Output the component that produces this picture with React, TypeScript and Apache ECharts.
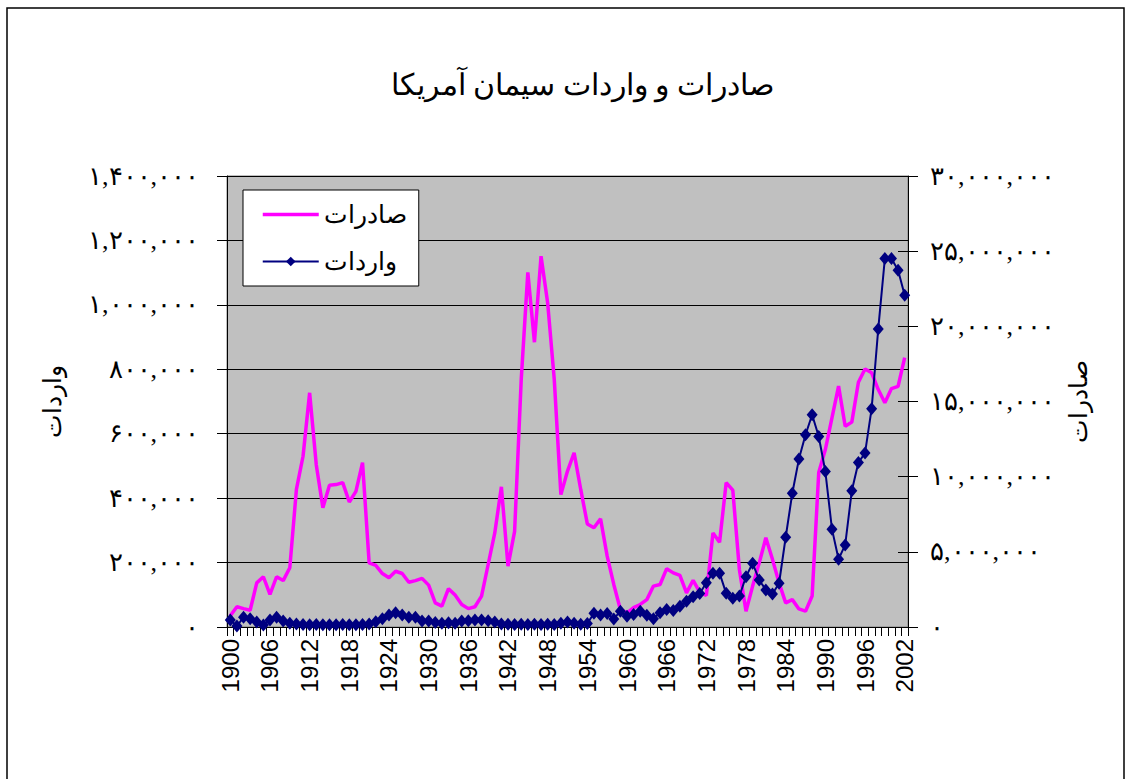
import React, { useEffect, useRef } from "react";
import * as echarts from "echarts";

const TITLE = "صادرات و واردات سیمان آمریکا";
const EXPORT_NAME = "صادرات";
const IMPORT_NAME = "واردات";

const FIRST_YEAR = 1900;
const LAST_YEAR = 2002;
const years: string[] = [];
for (let y = FIRST_YEAR; y <= LAST_YEAR; y++) years.push(String(y));

// magenta series (left axis)
const exportsData = [
  35000, 63000, 57000, 52000, 137000, 156000, 101000, 156000, 144000, 184000,
  427000, 530000, 727000, 504000, 370000, 440000, 442000, 448000, 388000, 421000,
  510000, 199000, 191000, 166000, 153000, 173000, 166000, 139000, 144000, 151000,
  130000, 75000, 65000, 119000, 99000, 70000, 57000, 63000, 96000, 194000,
  292000, 435000, 189000, 297000, 768000, 1101000, 884000, 1151000, 1006000, 768000,
  411000, 484000, 541000, 427000, 320000, 308000, 336000, 220000, 132000, 54000,
  44000, 60000, 70000, 85000, 127000, 132000, 181000, 168000, 160000, 106000,
  145000, 108000, 98000, 292000, 263000, 448000, 425000, 178000, 49000, 127000,
  199000, 277000, 210000, 137000, 75000, 85000, 56000, 49000, 96000, 480000,
  551000, 649000, 748000, 623000, 636000, 760000, 801000, 789000, 737000, 696000,
  740000, 747000, 836000,
];

// navy series (right axis)
const importsData = [
  466000, 67000, 644000, 555000, 333000, 133000, 466000, 644000, 400000, 244000,
  200000, 160000, 150000, 160000, 150000, 155000, 150000, 160000, 150000, 155000,
  160000, 200000, 350000, 550000, 800000, 955000, 800000, 650000, 650000, 400000,
  400000, 300000, 244000, 280000, 244000, 400000, 422000, 470000, 470000, 422000,
  330000, 200000, 180000, 170000, 180000, 170000, 180000, 170000, 180000, 170000,
  244000, 330000, 244000, 180000, 233000, 911000, 790000, 900000, 540000, 1053000,
  720000, 833000, 1053000, 787000, 547000, 947000, 1167000, 1100000, 1387000, 1720000,
  2013000, 2233000, 2950000, 3580000, 3580000, 2240000, 1910000, 2060000, 3350000, 4240000,
  3130000, 2460000, 2200000, 2910000, 5970000, 8900000, 11170000, 12790000, 14120000, 12670000,
  10340000, 6510000, 4510000, 5460000, 9060000, 10940000, 11570000, 14520000, 19830000, 24510000,
  24510000, 23730000, 22060000,
];

const LEFT_MIN = 0;
const LEFT_MAX = 1400000;
const LEFT_STEP = 200000;
const RIGHT_MIN = 0;
const RIGHT_MAX = 30000000;
const RIGHT_STEP = 5000000;

const FA_DIGITS = "۰۱۲۳۴۵۶۷۸۹";
const toFa = (n: number) =>
  Math.round(n)
    .toLocaleString("en-US")
    .replace(/\d/g, (d) => FA_DIGITS[Number(d)]);

const SERIF = "'Times New Roman', 'Liberation Serif', 'DejaVu Serif', serif";
const SANS = "Arial, 'Liberation Sans', sans-serif";

export default function App() {
  const ref = useRef<HTMLDivElement>(null);

  useEffect(() => {
    if (!ref.current) return;
    const chart = echarts.init(ref.current, undefined, { renderer: "svg" });
    chart.setOption({
      animation: false,
      backgroundColor: "#ffffff",
      title: {
        text: TITLE,
        left: 577,
        textAlign: "center",
        top: 64,
        textStyle: { fontFamily: SERIF, fontSize: 30, fontWeight: "normal", color: "#000" },
      },
      graphic: [
        {
          type: "rect",
          shape: { x: 7, y: 8, width: 1117, height: 800 },
          style: { fill: "none", stroke: "#000", lineWidth: 1.5 },
          silent: true,
          z: 0,
        },
      ],
      legend: {
        orient: "vertical",
        left: 243,
        top: 190,
        backgroundColor: "#ffffff",
        borderColor: "#000",
        borderWidth: 1,
        padding: [12, 12, 12, 18],
        itemGap: 22,
        itemWidth: 56,
        itemHeight: 12,
        lineStyle: { width: 3.5 },
        textStyle: { fontFamily: SERIF, fontSize: 25, color: "#000" },
        data: [
          { name: EXPORT_NAME, itemStyle: { opacity: 0 } },
          { name: IMPORT_NAME, lineStyle: { width: 2 } },
        ],
      },
      grid: {
        left: 227,
        right: 224,
        top: 176,
        bottom: 152,
        show: true,
        backgroundColor: "#c0c0c0",
        borderColor: "#808080",
        borderWidth: 1,
      },
      xAxis: {
        type: "category",
        data: years,
        boundaryGap: true,
        axisLine: { lineStyle: { color: "#000", width: 1 } },
        axisTick: { show: true, interval: 0, length: 9, lineStyle: { color: "#000" } },
        axisLabel: {
          interval: 5,
          rotate: 90,
          margin: 12,
          fontFamily: SANS,
          fontSize: 24,
          color: "#000",
        },
        splitLine: { show: false },
      },
      yAxis: [
        {
          type: "value",
          position: "left",
          min: LEFT_MIN,
          max: LEFT_MAX,
          interval: LEFT_STEP,
          name: IMPORT_NAME,
          nameLocation: "middle",
          nameRotate: 90,
          nameGap: 162,
          nameTextStyle: { fontFamily: SERIF, fontSize: 25, color: "#000" },
          axisLine: { show: true, lineStyle: { color: "#000", width: 1 } },
          axisTick: { show: true, length: 10, lineStyle: { color: "#000" } },
          axisLabel: {
            formatter: (v: number) => toFa(v),
            margin: 28,
            fontFamily: SERIF,
            fontSize: 26,
            color: "#000",
          },
          splitLine: { show: true, lineStyle: { color: "#000", width: 1 } },
        },
        {
          type: "value",
          position: "right",
          min: RIGHT_MIN,
          max: RIGHT_MAX,
          interval: RIGHT_STEP,
          name: EXPORT_NAME,
          nameLocation: "middle",
          nameRotate: 90,
          nameGap: 150,
          nameTextStyle: { fontFamily: SERIF, fontSize: 25, color: "#000" },
          axisLine: { show: true, lineStyle: { color: "#000", width: 1 } },
          axisTick: { show: true, length: 10, lineStyle: { color: "#000" } },
          axisLabel: {
            formatter: (v: number) => toFa(v),
            margin: 22,
            fontFamily: SERIF,
            fontSize: 26,
            color: "#000",
          },
          splitLine: { show: false },
        },
        {
          type: "value",
          position: "right",
          min: RIGHT_MIN,
          max: RIGHT_MAX,
          interval: RIGHT_STEP,
          axisLine: { show: false },
          axisTick: { show: true, inside: true, length: 10, lineStyle: { color: "#000" } },
          axisLabel: { show: false },
          splitLine: { show: false },
        },
      ],
      series: [
        {
          name: EXPORT_NAME,
          type: "line",
          yAxisIndex: 0,
          data: exportsData,
          showSymbol: false,
          symbol: "none",
          lineStyle: { color: "#ff00ff", width: 3.5 },
          itemStyle: { color: "#ff00ff" },
          z: 2,
        },
        {
          name: IMPORT_NAME,
          type: "line",
          yAxisIndex: 1,
          data: importsData,
          symbol: "diamond",
          symbolSize: [11, 13],
          showSymbol: true,
          showAllSymbol: true,
          lineStyle: { color: "#000080", width: 2 },
          itemStyle: { color: "#000080" },
          z: 3,
        },
      ],
    });
    return () => chart.dispose();
  }, []);

  return (
    <div
      ref={ref}
      style={{ position: "absolute", left: 0, top: 0, width: 1132, height: 779 }}
    />
  );
}
